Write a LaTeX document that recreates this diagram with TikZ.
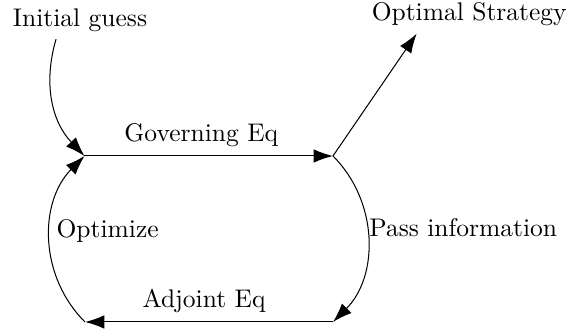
\documentclass[tikz,border=0pt]{standalone}
\usetikzlibrary{arrows.meta}
\begin{document}
\begin{tikzpicture}[x=0.3922pt,y=0.3922pt,
  conn/.style={-{Latex[length=7.6pt,width=5.3pt]}, line width=0.4pt},
  sidelbl/.style={pos=0.5, anchor=base west, inner sep=0pt, yshift=0.8pt}]
\useasboundingbox (0,0) rectangle (568,332);
\coordinate (A) at (84.5,176);
\coordinate (B) at (333,176);
\coordinate (C) at (333,10);
\coordinate (D) at (85,10);
\node[anchor=base] (ig) at (80,305.3) {Initial guess};
\node[anchor=base] (os) at (469.2,311.3) {Optimal Strategy};
\draw[conn] ([xshift=-9.4pt,yshift=0.7pt]ig.south) to[bend right] (A);
\draw[conn] (A) -- node[above,pos=0.47] (ge) {Governing Eq} (B);
\draw[conn] (B) -- ([xshift=-20.6pt,yshift=0.5pt]os.south);
\draw[conn] (B) to[bend left=45] node[sidelbl, xshift=0.6pt] (pi) {Pass information} (C);
\draw[conn] (C) -- node[above,pos=0.52] (ae) {Adjoint Eq} (D);
\draw[conn] (D) to[bend left=45] node[sidelbl, xshift=2.3pt] (op) {Optimize} (A);
\end{tikzpicture}
\end{document}
